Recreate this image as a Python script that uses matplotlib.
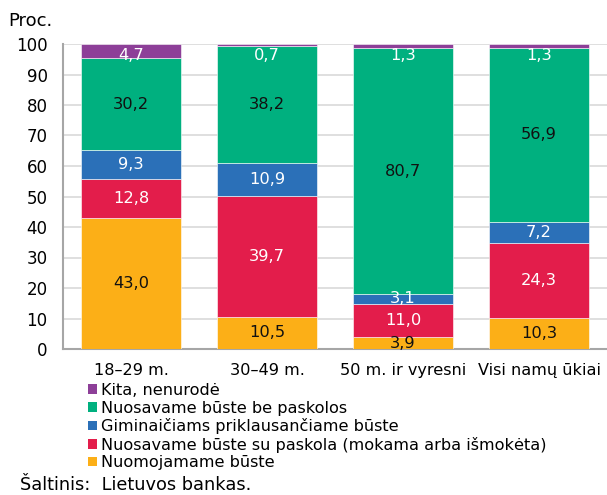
import matplotlib
matplotlib.use("Agg")
import matplotlib.pyplot as plt
import numpy as np
from matplotlib.patches import Patch

plt.rcParams['font.family'] = ['DejaVu Sans']

categories = ["18–29 m.", "30–49 m.", "50 m. ir vyresni", "Visi namų ūkiai"]
series_names = ["Nuomojamame būste",
                "Nuosavame būste su paskola (mokama arba išmokėta)",
                "Giminaičiams priklausančiame būste",
                "Nuosavame būste be paskolos",
                "Kita, nenurodė"]
nuomojamame = [43.0, 10.5, 3.9, 10.3]
su_paskola = [12.8, 39.7, 11.0, 24.3]
giminaiciams = [9.3, 10.9, 3.1, 7.2]
be_paskolos = [30.2, 38.2, 80.7, 56.9]
kita = [4.7, 0.7, 1.3, 1.3]
values = [nuomojamame, su_paskola, giminaiciams, be_paskolos, kita]
colors = ["#FCAF17", "#E31D4B", "#2B70B8", "#00B07F", "#8D3F98"]
label_colors = ["#111111", "white", "white", "#111111", "white"]
yticks = list(range(0, 101, 10))

fig = plt.figure(figsize=(6.07, 4.95), dpi=100)
ax = fig.add_axes([63/607, 1-349/495, 1-63/607, (349-44)/495])

x = np.arange(len(categories))
bottom = np.zeros(len(categories))
for i, (vals, col) in enumerate(zip(values, colors)):
    vals = np.array(vals)
    ax.bar(x, vals, width=0.735, bottom=bottom, color=col, edgecolor="white",
           linewidth=0.4, zorder=3)
    for xi, b, v in zip(x, bottom, vals):
        if i == len(values) - 1:
            yc = 96.3
        else:
            yc = b + v / 2
        ax.text(xi, yc, f"{v:.1f}".replace(".", ","), ha="center", va="center",
                color=label_colors[i], fontsize=11.7, zorder=4)
    bottom += vals

ax.set_xlim(-0.5, 3.5)
ax.set_ylim(0, 100)
ax.set_yticks(yticks)
ax.set_yticklabels([str(t) for t in yticks], fontsize=12)
ax.set_xticks(x)
ax.set_xticklabels(categories, fontsize=11.6)
ax.tick_params(axis="y", length=0, pad=11)
ax.tick_params(axis="x", length=0, pad=10)
ax.grid(axis="y", color="#d9d9d9", linewidth=1.2, zorder=0)
ax.set_axisbelow(True)
for s in ["top", "right"]:
    ax.spines[s].set_visible(False)
ax.spines["left"].set_color("#a6a6a6")
ax.spines["bottom"].set_color("#a6a6a6")
ax.spines["left"].set_linewidth(1.5)
ax.spines["bottom"].set_linewidth(1.5)

fig.text(8/607, 1-21/495, "Proc.", fontsize=13, va="center", ha="left")

handles = [Patch(facecolor=c) for c in colors[::-1]]
fig.legend(handles, series_names[::-1], loc="upper left",
           bbox_to_anchor=(88/607, 1-383/495), frameon=False, fontsize=11.6,
           handlelength=0.55, handleheight=0.55, handletextpad=0.25,
           labelspacing=0.16, borderaxespad=0, borderpad=0)

fig.text(20/607, 1-485/495, "Šaltinis:  Lietuvos bankas.", fontsize=12.8, va="center", ha="left")

fig.savefig("out.png", dpi=100)
